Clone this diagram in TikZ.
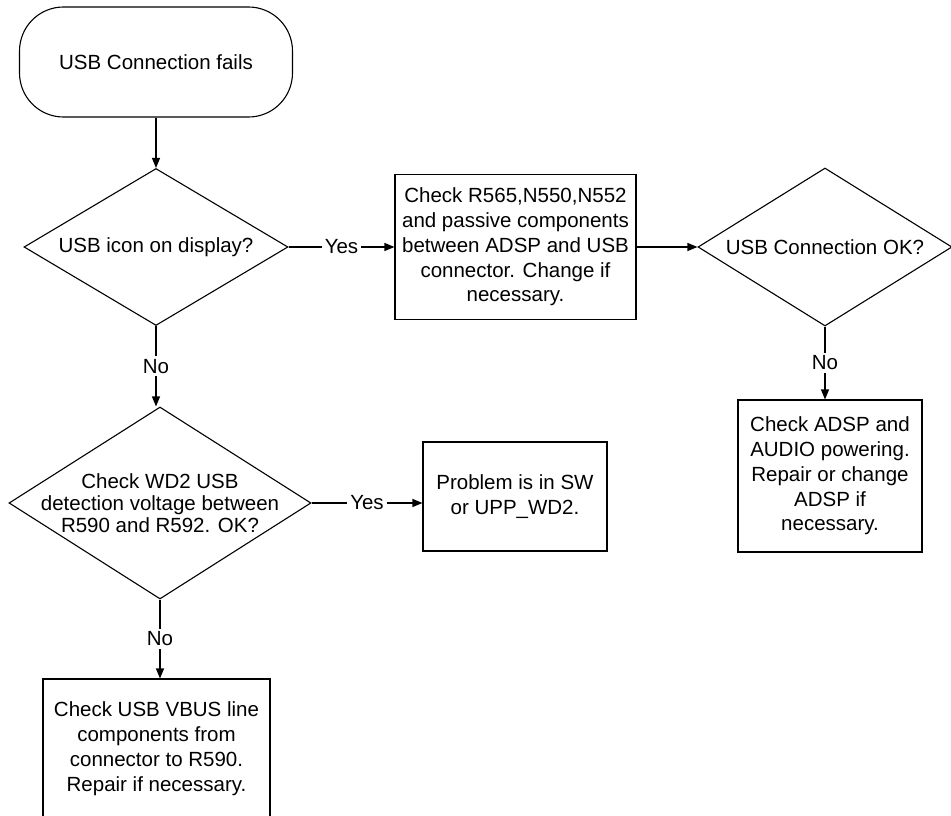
\documentclass[tikz,border=0pt]{standalone}
\usepackage{fontspec}
\setmainfont{Liberation Sans}
\usetikzlibrary{shapes.geometric,arrows.meta}
\begin{document}
\begin{tikzpicture}[x=1pt,y=-1pt,
  every node/.style={font=\fontsize{20.5}{24.8}\selectfont, text=black},
  flow/.style={line width=1.1pt, draw=black},
  arrow/.style={flow, -{Triangle[length=10pt,width=8pt]}},
  lbl/.style={fill=white, inner sep=3pt},
  startbox/.style={draw, line width=1.1pt, rounded corners=44pt, inner sep=0pt},
  decision/.style={draw, line width=1.1pt, diamond, inner sep=0pt},
  stepbox/.style={draw, line width=1.1pt, rectangle, inner sep=0pt, align=center},
]
\useasboundingbox (0,0) rectangle (951,816);

% start terminal
\node[startbox, minimum width=273pt, minimum height=110pt] (start) at (156,62) {USB Connection fails};

% first decision
\node[decision, minimum width=264pt, minimum height=157pt] (d1) at (156,247) {};
\node (d1t) at (d1.center) {USB icon on display?};

% yes branch
\node[stepbox, minimum width=241pt, minimum height=145pt] (b1) at (515.5,247)
  {Check R565,N550,N552\\and passive components\\between ADSP and USB\\connector. Change if\\necessary.};
\node[decision, minimum width=254pt, minimum height=158pt] (d2) at (825,247) {};
\node (d2t) at (d2.center) {USB Connection OK?};
\node[stepbox, minimum width=184pt, minimum height=152pt] (b3) at (830,476)
  {Check ADSP and\\AUDIO powering.\\Repair or change\\ADSP if\\necessary.};

% no branch
\node[decision, minimum width=302pt, minimum height=192pt] (d3) at (160,503) {};
\node[align=center, font=\fontsize{20.5}{22}\selectfont] (d3t) at (d3.center)
  {Check WD2 USB\\detection voltage between\\R590 and R592. OK?};
\node[stepbox, minimum width=184pt, minimum height=109pt] (b2) at (515,496.5)
  {Problem is in SW\\or UPP\_WD2.};
\node[stepbox, minimum width=227pt, minimum height=139pt] (b4) at (156.5,748.5)
  {Check USB VBUS line\\components from\\connector to R590.\\Repair if necessary.};

% connectors
\draw[arrow] (start.south) -- (start.south |- d1.north);
\draw[arrow] (d1.east) -- node[lbl] (y1) {Yes} (d1.east -| b1.west);
\draw[arrow] (b1.east) -- (b1.east -| d2.west);
\draw[arrow] (d2.south) -- node[lbl] (n2) {No} (d2.south |- b3.north);
\draw[arrow] (d1.south) -- node[lbl] (n1) {No} (d1.south |- d3.north);
\draw[arrow] (d3.east) -- node[lbl] (y3) {Yes} (d3.east -| b2.west);
\draw[arrow] (d3.south) -- node[lbl] (n3) {No} (d3.south |- b4.north);
\end{tikzpicture}
\end{document}
